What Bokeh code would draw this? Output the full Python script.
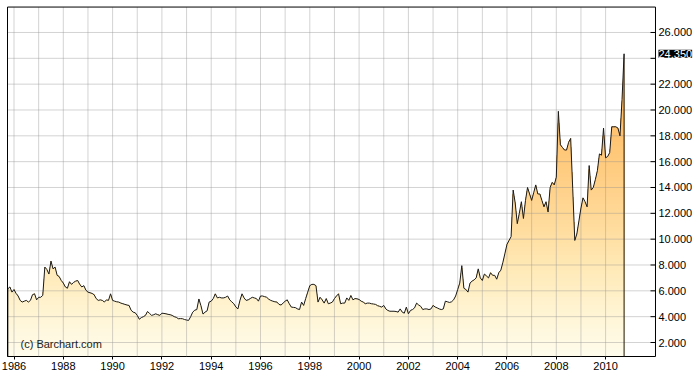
import numpy as np
from bokeh.plotting import figure
from bokeh.models import FixedTicker, Label
from bokeh.core.properties import value
from bokeh.embed import file_html
from bokeh.resources import INLINE

# ---- data: monthly silver price (USD/oz), Oct 1985 .. Oct 2010 ----
start_year = 1985
start_month = 10
close_1985 = [6.16, 6.3, 5.9]
close_1986 = [6.1, 5.8, 5.6, 5.26, 5.13, 5.2, 5.26, 5.13, 5.26, 5.7, 5.77, 5.3]
close_1987 = [5.5, 5.5, 5.65, 7.84, 7.65, 7.3, 8.3, 7.7, 7.84, 7.2, 7.1, 6.8]
close_1988 = [6.6, 6.3, 6.2, 6.7, 6.5, 6.65, 6.75, 6.8, 6.5, 6.3, 6.4, 6.05]
close_1989 = [5.9, 5.85, 5.8, 5.7, 5.4, 5.26, 5.3, 5.26, 5.13, 5.3, 5.26, 5.77]
close_1990 = [5.26, 5.2, 5.15, 5.13, 5.05, 5.0, 4.95, 4.9, 4.87, 4.5, 4.35, 4.3]
close_1991 = [4.1, 3.8, 3.93, 4.0, 4.1, 4.4, 4.25, 4.1, 4.15, 4.22, 4.15, 4.1]
close_1992 = [4.27, 4.25, 4.22, 4.18, 4.15, 4.1, 4.0, 3.95, 3.84, 3.85, 3.84, 3.78]
close_1993 = [3.74, 3.71, 4.0, 4.35, 4.5, 4.55, 5.37, 4.85, 4.2, 4.35, 4.45, 5.13]
close_1994 = [5.2, 5.4, 5.77, 5.45, 5.5, 5.45, 5.45, 5.5, 5.6, 5.3, 5.15, 5.0]
close_1995 = [4.75, 4.6, 5.26, 5.77, 5.45, 5.26, 5.3, 5.4, 5.5, 5.45, 5.4, 5.2]
close_1996 = [5.6, 5.6, 5.55, 5.5, 5.35, 5.26, 5.2, 5.15, 5.13, 4.95, 4.9, 5.05]
close_1997 = [5.2, 5.3, 5.0, 4.74, 4.72, 4.7, 4.6, 4.55, 5.13, 4.87, 5.4, 5.9]
close_1998 = [6.4, 6.5, 6.5, 6.4, 5.13, 5.5, 5.3, 5.05, 5.4, 5.0, 5.05, 5.13]
close_1999 = [5.4, 5.6, 5.77, 5.0, 5.05, 5.05, 5.45, 5.26, 5.64, 5.3, 5.4, 5.38]
close_2000 = [5.33, 5.2, 5.13, 5.0, 5.05, 5.05, 5.0, 4.98, 4.95, 4.85, 4.8, 4.74]
close_2001 = [4.87, 4.6, 4.48, 4.42, 4.42, 4.42, 4.4, 4.35, 4.6, 4.35, 4.27, 4.74]
close_2002 = [4.22, 4.48, 4.55, 4.68, 5.05, 4.9, 4.8, 4.55, 4.6, 4.6, 4.55, 4.6]
close_2003 = [4.87, 4.75, 4.68, 4.6, 4.55, 4.6, 5.2, 5.15, 5.1, 5.15, 5.3, 5.6]
close_2004 = [6.1, 6.6, 7.95, 6.2, 6.1, 5.9, 6.6, 6.75, 6.85, 7.0, 7.7, 7.0]
close_2005 = [6.8, 7.3, 7.15, 7.0, 7.4, 7.2, 7.2, 6.9, 7.4, 7.6, 8.2, 8.9]
close_2006 = [9.6, 9.9, 10.2, 13.8, 12.8, 11.2, 12.0, 12.9, 11.6, 13.0, 14.0, 13.5]
close_2007 = [13.0, 13.6, 14.2, 13.5, 13.5, 13.0, 12.5, 12.9, 12.1, 14.0, 14.4, 14.2]
close_2008 = [14.8, 19.9, 17.3, 17.1, 16.9, 16.9, 17.5, 17.8, 13.9, 9.9, 10.4, 11.4]
close_2009 = [12.4, 13.2, 12.9, 12.5, 15.7, 13.8, 14.0, 14.6, 15.3, 16.6, 16.5, 18.6]
close_2010 = [16.3, 16.4, 16.7, 18.7, 18.7, 18.7, 18.6, 18.0, 20.8, 24.35]

close = (close_1985 + close_1986 + close_1987 + close_1988 + close_1989 + close_1990
         + close_1991 + close_1992 + close_1993 + close_1994 + close_1995 + close_1996
         + close_1997 + close_1998 + close_1999 + close_2000 + close_2001 + close_2002
         + close_2003 + close_2004 + close_2005 + close_2006 + close_2007 + close_2008
         + close_2009 + close_2010)
xs = [start_year + (start_month - 1 + k) / 12.0 for k in range(len(close))]

x_label_years = list(range(1986, 2011, 2))
x_grid_years = list(range(1986, 2011))
y_ticks = [2, 4, 6, 8, 10, 12, 14, 16, 18, 20, 22, 24, 26]
y_tick_labels = ["2.000", "4.000", "6.000", "8.000", "10.000", "12.000", "14.000",
                 "16.000", "18.000", "20.000", "22.000", "", "26.000"]
copyright_text = "(c) Barchart.com"
last_text = f"{close[-1]:.3f}"

FONT = "Liberation Sans"

# ---- layout (plot box inside a full-width frame; price scale drawn at its right) ----
X_START, X_END = 1985.452, 2013.769      # whole drawing width
X_LEFT, X_AXIS = 1985.736, 2012.024      # plot box left border / price-scale line
Y_START, Y_END = 0.9162, 28.477
Y_TOP = 27.97                              # plot box top border

p = figure(width=698, height=378,
           x_range=(X_START, X_END), y_range=(Y_START, Y_END),
           y_axis_location=None, toolbar_location=None, output_backend="svg",
           min_border_left=0, min_border_top=0, min_border_right=0, min_border_bottom=22,
           background_fill_color="white", border_fill_color="white",
           outline_line_color=None)
p.xgrid.visible = False
p.ygrid.visible = False

# gradient fill made of stacked clipped areas (colour by price level)
stop_v = [1.0, 4.0, 8.0, 12.0, 16.0, 20.0, 25.0]
stop_rgb = np.array([(255, 252, 236), (255, 245, 214), (255, 232, 180), (255, 216, 150),
                     (255, 202, 125), (255, 190, 105), (255, 176, 85)], dtype=float)

def color_at(v):
    c = [np.interp(v, stop_v, stop_rgb[:, k]) for k in range(3)]
    return "#%02x%02x%02x" % tuple(int(round(t)) for t in c)

vals = np.array(close)
levels = np.arange(1.0, 25.0, 0.3)
for hi in levels[::-1]:
    top = np.minimum(vals, hi)
    p.varea(x=xs, y1=Y_START, y2=top, fill_color=color_at(hi - 0.15))

# grid lines (inside the plot box only)
GRID = dict(line_color="#909090", line_alpha=0.4, line_width=1, level="annotation")
p.segment(x0=x_grid_years, y0=[Y_START] * len(x_grid_years),
          x1=x_grid_years, y1=[Y_TOP] * len(x_grid_years), **GRID)
p.segment(x0=[X_LEFT] * len(y_ticks), y0=y_ticks,
          x1=[X_AXIS] * len(y_ticks), y1=y_ticks, **GRID)

# outline of the price area
p.line([xs[0]] + xs + [xs[-1]], [Y_START] + close + [Y_START],
       line_color="#1a1a1a", line_width=1, level="overlay")

# plot box borders: left, top, price-scale line
BOX = dict(line_color="black", line_width=1, level="overlay")
p.segment(x0=[X_LEFT, X_LEFT, X_AXIS], y0=[Y_START, Y_TOP, Y_START],
          x1=[X_LEFT, X_AXIS, X_AXIS], y1=[Y_TOP, Y_TOP, Y_TOP], **BOX)

# price scale: inward ticks and labels
p.ray(x=[X_AXIS] * len(y_ticks), y=y_ticks, length=5, length_units="screen",
      angle=np.pi, line_color="black", line_width=1, level="overlay")
p.text(x=[X_AXIS] * len(y_ticks), y=y_ticks, text=y_tick_labels, x_offset=3,
       text_font=value(FONT), text_font_size="11px", text_color="black",
       text_baseline="middle", text_align="left", level="overlay")

# bottom (time) axis, limited to the plot box
xa = p.xaxis[0]
xa.ticker = FixedTicker(ticks=x_label_years)
xa.bounds = (X_LEFT, X_AXIS)
xa.major_tick_in = 0
xa.major_tick_out = 3
xa.minor_tick_line_color = None
xa.axis_line_color = "black"
xa.major_tick_line_color = "black"
xa.major_label_standoff = 2
xa.major_label_text_font = FONT
xa.major_label_text_font_size = "11px"
xa.major_label_text_color = "black"

# last price marker
p.add_layout(Label(x=X_AXIS, y=close[-1], x_offset=3, text=last_text,
                   text_font=FONT, text_font_size="11px", text_color="white",
                   background_fill_color="black", text_baseline="middle",
                   text_align="left", level="overlay"))

# copyright
p.add_layout(Label(x=X_LEFT, y=Y_START, x_offset=13, y_offset=13,
                   text=copyright_text, text_font=FONT, text_font_size="11px",
                   text_color="#222222", text_baseline="middle", text_align="left"))

open("out.html", "w").write(file_html(p, INLINE))
